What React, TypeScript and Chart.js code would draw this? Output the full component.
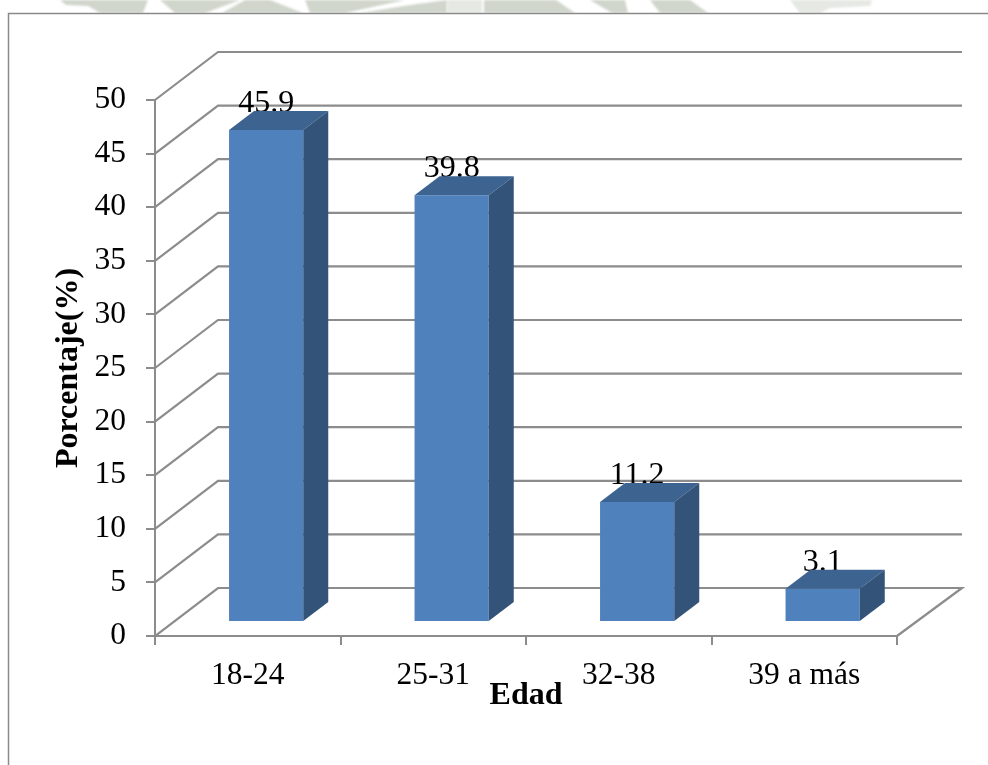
import React, { useEffect, useRef } from "react";
import { Chart, registerables } from "chart.js";

Chart.register(...registerables);

const categories = ["18-24", "25-31", "32-38", "39 a más"];
const percentages = [45.9, 39.8, 11.2, 3.1];
const yMax = 50;
const yStep = 5;
const yTitle = "Porcentaje(%)";
const xTitle = "Edad";

const W = 988;
const H = 765;
const SERIF = "'Liberation Serif', 'Times New Roman', serif";
const GREY = "#8c8c8c";
const FRONT = "#4f81bd";
const TOP = "#3d6391";
const SIDE = "#335378";
const WALL_DX = 63;
const WALL_DY = 48;
const RIGHT_BACK = 962;
const BAR_SHIFT_X = 18.4;
const BAR_SHIFT_Y = 14;
const BAR_DX = 25;
const BAR_DY = 19;
const TICK_SIZE = 31.5;
const LABEL_SIZE = 32;

const watermarkDark: number[][][] = [
  [[60, 0], [148, 0], [143, 13], [100, 13], [88, 6], [66, 5]],
  [[160, 0], [240, 0], [205, 13], [175, 13]],
  [[245, 0], [270, 0], [303, 13], [222, 13]],
  [[305, 0], [405, 0], [345, 13], [310, 13]],
  [[360, 13], [410, 5], [447, 0], [447, 13]],
  [[484, 0], [556, 0], [575, 13], [484, 13]],
  [[590, 0], [625, 0], [628, 13], [612, 13]],
  [[650, 0], [690, 0], [708, 13], [660, 13]],
];
const watermarkLight: number[][][] = [
  [[447, 0], [482, 0], [482, 13], [447, 13]],
  [[790, 0], [872, 0], [870, 6], [830, 8], [820, 13], [800, 13]],
];

function poly(ctx: CanvasRenderingContext2D, pts: number[][], fill: string) {
  ctx.beginPath();
  pts.forEach(([x, y], i) => (i ? ctx.lineTo(x, y) : ctx.moveTo(x, y)));
  ctx.closePath();
  ctx.fillStyle = fill;
  ctx.fill();
}

const chrome3d = {
  id: "chrome3d",
  beforeDraw(chart: any) {
    const { ctx } = chart;
    ctx.save();
    ctx.filter = "blur(1px)";
    watermarkDark.forEach((p) => poly(ctx, p, "#d0d6cc"));
    watermarkLight.forEach((p) => poly(ctx, p, "#e5e8e3"));
    ctx.filter = "none";
    ctx.fillStyle = "#ffffff";
    ctx.fillRect(0, 13, W, H);
    ctx.strokeStyle = "#8a8a8a";
    ctx.lineWidth = 1.5;
    ctx.beginPath();
    ctx.moveTo(8.5, H);
    ctx.lineTo(8.5, 13.5);
    ctx.lineTo(W, 13.5);
    ctx.stroke();
    ctx.restore();
  },
  beforeDatasetsDraw(chart: any) {
    const { ctx, chartArea, scales } = chart;
    const y = scales.y;
    ctx.save();
    ctx.strokeStyle = GREY;
    ctx.lineWidth = 2.2;
    ctx.lineJoin = "miter";
    for (let v = 0; v <= yMax; v += yStep) {
      const py = y.getPixelForValue(v);
      ctx.beginPath();
      ctx.moveTo(chartArea.left, py);
      ctx.lineTo(chartArea.left + WALL_DX, py - WALL_DY);
      ctx.lineTo(RIGHT_BACK, py - WALL_DY);
      if (v === 0) ctx.lineTo(chartArea.right, py);
      ctx.stroke();
    }
    // value labels sit behind the bar tops
    ctx.fillStyle = "#000";
    ctx.font = `${LABEL_SIZE}px ${SERIF}`;
    ctx.textAlign = "center";
    ctx.textBaseline = "alphabetic";
    const meta = chart.getDatasetMeta(0);
    meta.data.forEach((bar: any, i: number) => {
      const tx = bar.x + BAR_SHIFT_X;
      const ty = bar.y - BAR_SHIFT_Y - BAR_DY + 1;
      ctx.fillText(percentages[i].toFixed(1), tx, ty);
    });
    ctx.restore();
    ctx.save();
    ctx.translate(BAR_SHIFT_X, -BAR_SHIFT_Y);
  },
  afterDatasetsDraw(chart: any) {
    const { ctx } = chart;
    const meta = chart.getDatasetMeta(0);
    meta.data.forEach((bar: any) => {
      const l = bar.x - bar.width / 2;
      const r = bar.x + bar.width / 2;
      poly(ctx, [[l, bar.y], [r, bar.y], [r + BAR_DX, bar.y - BAR_DY], [l + BAR_DX, bar.y - BAR_DY]], TOP);
      poly(ctx, [[r, bar.y], [r + BAR_DX, bar.y - BAR_DY], [r + BAR_DX, bar.base - BAR_DY], [r, bar.base]], SIDE);
    });
    ctx.restore();
  },
};

export default function App() {
  const ref = useRef<HTMLCanvasElement | null>(null);
  useEffect(() => {
    const chart = new Chart(ref.current as HTMLCanvasElement, {
      type: "bar",
      data: {
        labels: categories,
        datasets: [
          {
            data: percentages,
            backgroundColor: FRONT,
            borderWidth: 0,
            barPercentage: 0.4,
            categoryPercentage: 1,
          },
        ],
      },
      options: {
        responsive: false,
        animation: false,
        events: [],
        layout: { padding: { left: 0, top: 100, right: W - 897, bottom: 0 } },
        plugins: { legend: { display: false }, tooltip: { enabled: false } },
        scales: {
          x: {
            afterFit(scale: any) {
              scale.height = H - 636;
            },
            border: { color: GREY, width: 2 },
            grid: { drawOnChartArea: false, color: GREY, lineWidth: 2, tickLength: 9 },
            ticks: { color: "#000", font: { family: SERIF, size: TICK_SIZE }, padding: 12, maxRotation: 0 },
            title: {
              display: true,
              text: xTitle,
              color: "#000",
              font: { family: SERIF, size: LABEL_SIZE, weight: "bold" },
              padding: { top: 0, bottom: 50 },
            },
          },
          y: {
            min: 0,
            max: yMax,
            afterFit(scale: any) {
              scale.width = 155;
            },
            border: { color: GREY, width: 2 },
            grid: { drawOnChartArea: false, color: GREY, lineWidth: 2, tickLength: 9 },
            ticks: { stepSize: yStep, color: "#000", font: { family: SERIF, size: TICK_SIZE }, padding: 20 },
            title: {
              display: true,
              text: yTitle,
              color: "#000",
              font: { family: SERIF, size: LABEL_SIZE, weight: "bold" },
              padding: { top: 50, bottom: 0 },
            },
          },
        },
      },
      plugins: [chrome3d],
    } as any);
    return () => chart.destroy();
  }, []);
  return (
    <canvas
      ref={ref}
      width={W}
      height={H}
      style={{ position: "absolute", left: 0, top: 0, width: W, height: H, display: "block", filter: "blur(0.5px)" }}
    />
  );
}
